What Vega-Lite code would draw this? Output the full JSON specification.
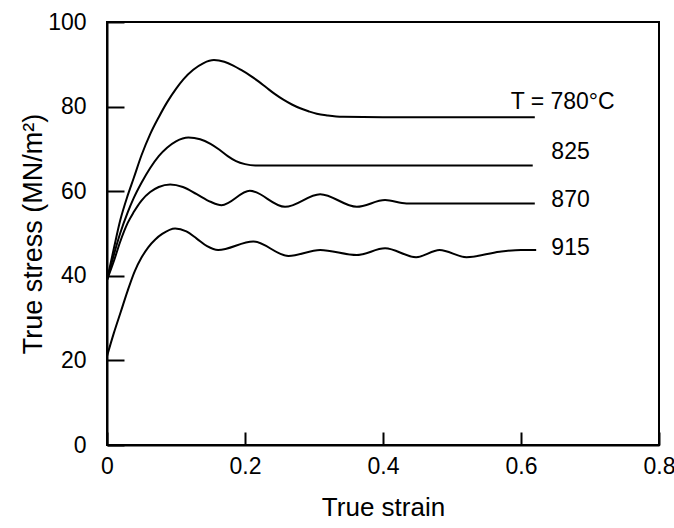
{
  "$schema": "https://vega.github.io/schema/vega-lite/v6.json",
  "width": 552,
  "height": 423,
  "autosize": {"type": "none"},
  "padding": {"left": 107, "top": 22, "right": 15, "bottom": 83},
  "background": "white",
  "config": {
    "font": "Liberation Sans",
    "view": {"stroke": "black", "strokeWidth": 2},
    "axis": {
      "grid": false,
      "domainColor": "black",
      "domainWidth": 2,
      "tickColor": "black",
      "tickWidth": 2,
      "labelColor": "black",
      "labelFont": "Liberation Sans",
      "labelFontSize": 23,
      "labelFontWeight": "normal",
      "titleColor": "black",
      "titleFont": "Liberation Sans",
      "titleFontSize": 26,
      "titleFontWeight": "normal"
    }
  },
  "datasets": {
    "curves": [
      {"T": "780", "strain": 0, "stress": 39},
      {"T": "780", "strain": 0.01, "stress": 46.5},
      {"T": "780", "strain": 0.019, "stress": 53},
      {"T": "780", "strain": 0.03, "stress": 59},
      {"T": "780", "strain": 0.0385, "stress": 63},
      {"T": "780", "strain": 0.05, "stress": 68.5},
      {"T": "780", "strain": 0.0626, "stress": 73.5},
      {"T": "780", "strain": 0.075, "stress": 77.5},
      {"T": "780", "strain": 0.087, "stress": 81},
      {"T": "780", "strain": 0.1, "stress": 84.2},
      {"T": "780", "strain": 0.111, "stress": 86.5},
      {"T": "780", "strain": 0.125, "stress": 88.7},
      {"T": "780", "strain": 0.14, "stress": 90.3},
      {"T": "780", "strain": 0.155, "stress": 91},
      {"T": "780", "strain": 0.17, "stress": 90.6},
      {"T": "780", "strain": 0.183, "stress": 89.7},
      {"T": "780", "strain": 0.195, "stress": 88.6},
      {"T": "780", "strain": 0.207, "stress": 87.4},
      {"T": "780", "strain": 0.22, "stress": 85.9},
      {"T": "780", "strain": 0.231, "stress": 84.5},
      {"T": "780", "strain": 0.243, "stress": 83},
      {"T": "780", "strain": 0.255, "stress": 81.7},
      {"T": "780", "strain": 0.268, "stress": 80.5},
      {"T": "780", "strain": 0.28, "stress": 79.6},
      {"T": "780", "strain": 0.292, "stress": 78.9},
      {"T": "780", "strain": 0.304, "stress": 78.3},
      {"T": "780", "strain": 0.32, "stress": 77.9},
      {"T": "780", "strain": 0.342, "stress": 77.6},
      {"T": "780", "strain": 0.4, "stress": 77.5},
      {"T": "780", "strain": 0.5, "stress": 77.5},
      {"T": "780", "strain": 0.62, "stress": 77.5},

      {"T": "825", "strain": 0, "stress": 39},
      {"T": "825", "strain": 0.01, "stress": 45},
      {"T": "825", "strain": 0.019, "stress": 50},
      {"T": "825", "strain": 0.03, "stress": 55},
      {"T": "825", "strain": 0.0385, "stress": 58.3},
      {"T": "825", "strain": 0.05, "stress": 62},
      {"T": "825", "strain": 0.0626, "stress": 65.5},
      {"T": "825", "strain": 0.075, "stress": 68.3},
      {"T": "825", "strain": 0.087, "stress": 70.3},
      {"T": "825", "strain": 0.1, "stress": 71.8},
      {"T": "825", "strain": 0.118, "stress": 72.7},
      {"T": "825", "strain": 0.135, "stress": 72.3},
      {"T": "825", "strain": 0.15, "stress": 71.2},
      {"T": "825", "strain": 0.163, "stress": 69.8},
      {"T": "825", "strain": 0.175, "stress": 68.3},
      {"T": "825", "strain": 0.187, "stress": 67.1},
      {"T": "825", "strain": 0.2, "stress": 66.4},
      {"T": "825", "strain": 0.215, "stress": 66.1},
      {"T": "825", "strain": 0.3, "stress": 66.1},
      {"T": "825", "strain": 0.45, "stress": 66.1},
      {"T": "825", "strain": 0.617, "stress": 66.1},

      {"T": "870", "strain": 0, "stress": 39},
      {"T": "870", "strain": 0.01, "stress": 43.5},
      {"T": "870", "strain": 0.019, "stress": 48},
      {"T": "870", "strain": 0.03, "stress": 52.5},
      {"T": "870", "strain": 0.0385, "stress": 55},
      {"T": "870", "strain": 0.05, "stress": 57.8},
      {"T": "870", "strain": 0.0626, "stress": 59.8},
      {"T": "870", "strain": 0.075, "stress": 61},
      {"T": "870", "strain": 0.0916, "stress": 61.6},
      {"T": "870", "strain": 0.11, "stress": 61},
      {"T": "870", "strain": 0.13, "stress": 59.3},
      {"T": "870", "strain": 0.15, "stress": 57.5},
      {"T": "870", "strain": 0.166, "stress": 56.7},
      {"T": "870", "strain": 0.207, "stress": 60.1},
      {"T": "870", "strain": 0.258, "stress": 56.3},
      {"T": "870", "strain": 0.309, "stress": 59.3},
      {"T": "870", "strain": 0.362, "stress": 56.3},
      {"T": "870", "strain": 0.403, "stress": 57.9},
      {"T": "870", "strain": 0.434, "stress": 57.1},
      {"T": "870", "strain": 0.5, "stress": 57.1},
      {"T": "870", "strain": 0.62, "stress": 57.1},

      {"T": "915", "strain": 0, "stress": 21},
      {"T": "915", "strain": 0.01, "stress": 26.5},
      {"T": "915", "strain": 0.02, "stress": 31.5},
      {"T": "915", "strain": 0.03, "stress": 36.5},
      {"T": "915", "strain": 0.04, "stress": 41},
      {"T": "915", "strain": 0.05, "stress": 44.3},
      {"T": "915", "strain": 0.06, "stress": 46.8},
      {"T": "915", "strain": 0.07, "stress": 48.6},
      {"T": "915", "strain": 0.08, "stress": 49.9},
      {"T": "915", "strain": 0.0988, "stress": 51.2},
      {"T": "915", "strain": 0.115, "stress": 50.5},
      {"T": "915", "strain": 0.13, "stress": 48.8},
      {"T": "915", "strain": 0.145, "stress": 47},
      {"T": "915", "strain": 0.161, "stress": 46.1},
      {"T": "915", "strain": 0.212, "stress": 48.1},
      {"T": "915", "strain": 0.263, "stress": 44.7},
      {"T": "915", "strain": 0.309, "stress": 46.1},
      {"T": "915", "strain": 0.362, "stress": 44.9},
      {"T": "915", "strain": 0.403, "stress": 46.5},
      {"T": "915", "strain": 0.448, "stress": 44.4},
      {"T": "915", "strain": 0.482, "stress": 46.1},
      {"T": "915", "strain": 0.521, "stress": 44.4},
      {"T": "915", "strain": 0.569, "stress": 45.7},
      {"T": "915", "strain": 0.6, "stress": 46.1},
      {"T": "915", "strain": 0.622, "stress": 46.1}
    ],
    "labels": [
      {"label": "T = 780°C", "strain": 0.585, "stress": 81.2},
      {"label": "825", "strain": 0.644, "stress": 69.3},
      {"label": "870", "strain": 0.644, "stress": 57.9},
      {"label": "915", "strain": 0.644, "stress": 46.5}
    ]
  },
  "layer": [
    {
      "data": {"name": "curves"},
      "mark": {"type": "line", "interpolate": "monotone", "color": "black", "strokeWidth": 2},
      "encoding": {
        "x": {
          "field": "strain", "type": "quantitative",
          "scale": {"domain": [0, 0.8], "nice": false, "zero": false},
          "axis": {"title": "True strain", "values": [0, 0.2, 0.4, 0.6, 0.8], "format": ".1~f", "tickSize": -13, "labelPadding": 23, "titlePadding": 16, "labelFlush": false}
        },
        "y": {
          "field": "stress", "type": "quantitative",
          "scale": {"domain": [0, 100], "nice": false},
          "axis": {"title": "True stress (MN/m²)", "values": [0, 20, 40, 60, 80, 100], "tickSize": -17, "labelPadding": 38, "titlePadding": 0, "titleFontSize": 27, "labelFlush": false}
        },
        "detail": {"field": "T", "type": "nominal"}
      }
    },
    {
      "data": {"name": "labels"},
      "mark": {"type": "text", "align": "left", "baseline": "middle", "fontSize": 23, "font": "Liberation Sans", "color": "black"},
      "encoding": {
        "x": {"field": "strain", "type": "quantitative"},
        "y": {"field": "stress", "type": "quantitative"},
        "text": {"field": "label", "type": "nominal"}
      }
    }
  ]
}
